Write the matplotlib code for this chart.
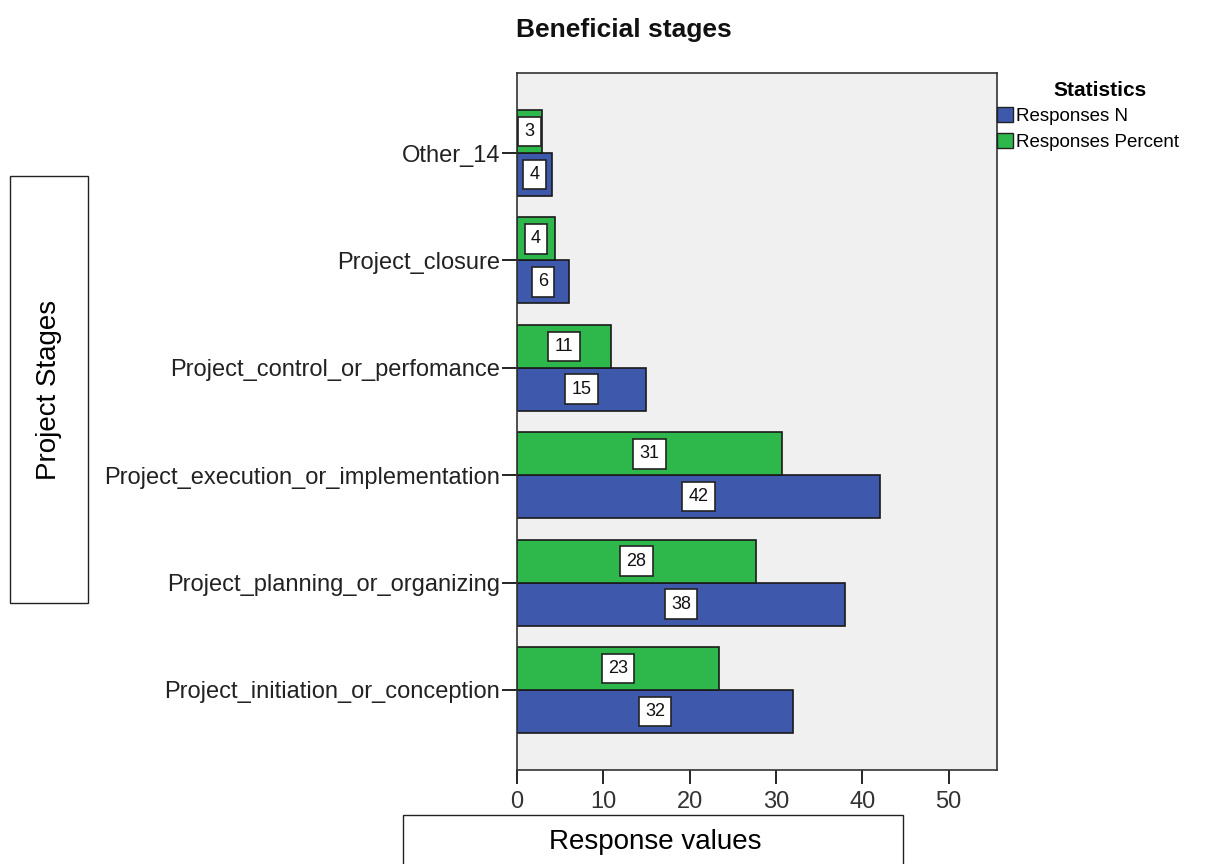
"""Grouped horizontal bar chart: beneficial project stages (responses N and percent)."""

import matplotlib
matplotlib.use("Agg")
import matplotlib.pyplot as plt
from matplotlib.patches import Patch, Rectangle

plt.rcParams["font.family"] = ["Liberation Sans", "DejaVu Sans"]

stages = [
    "Project_initiation_or_conception",
    "Project_planning_or_organizing",
    "Project_execution_or_implementation",
    "Project_control_or_perfomance",
    "Project_closure",
    "Other_14",
]
responses_n = [32, 38, 42, 15, 6, 4]
responses_pct = [23.4, 27.7, 30.7, 10.9, 4.4, 2.9]

BLUE = "#3e58ac"
GREEN = "#2eb84b"
BG = "#f0f0f0"

fig = plt.figure(figsize=(12.12, 8.64), dpi=100)
ax = fig.add_axes([517 / 1212, 94 / 864, 480 / 1212, 697 / 864])
ax.set_facecolor(BG)

h = 0.4
ypos = list(range(len(stages)))
bars_n = ax.barh([y - h / 2 for y in ypos], responses_n, height=h,
                 color=BLUE, edgecolor="#1a1a1a", linewidth=1.2)
bars_p = ax.barh([y + h / 2 for y in ypos], responses_pct, height=h,
                 color=GREEN, edgecolor="#1a1a1a", linewidth=1.2)

# value boxes centred on each bar
for bars, vals in ((bars_n, responses_n), (bars_p, responses_pct)):
    for b, v in zip(bars, vals):
        ax.text(v / 2, b.get_y() + b.get_height() / 2, f"{v:.0f}",
                ha="center", va="center", fontsize=13, color="#111111",
                bbox=dict(boxstyle="square,pad=0.35", fc="white", ec="#222222", lw=1.2))

ax.set_xlim(0, 55.6)
ax.set_ylim(-0.745, 5.745)
ax.set_xticks([0, 10, 20, 30, 40, 50])
ax.set_yticks(ypos)
ax.set_yticklabels(stages, fontsize=17, color="#222222")
ax.tick_params(axis="x", direction="out", length=10, width=1.2, labelsize=17,
               labelcolor="#333333", pad=5)
ax.tick_params(axis="y", direction="out", length=11, width=1.2, pad=1)
for s in ax.spines.values():
    s.set_color("#333333")
    s.set_linewidth(1.2)

fig.text(624 / 1212, 1 - 30 / 864, "Beneficial stages", ha="center", va="center",
         fontsize=19, fontweight="bold", color="#111111")

# legend
fig.text(1100 / 1212, 1 - 90 / 864, "Statistics", ha="center", va="center",
         fontsize=15, fontweight="bold")
leg = fig.legend(handles=[Patch(fc=BLUE, ec="#222222", label="Responses N"),
                          Patch(fc=GREEN, ec="#222222", label="Responses Percent")],
                 loc="upper left", bbox_to_anchor=(997 / 1212, 1 - 107 / 864),
                 frameon=False, fontsize=13.5, handlelength=0.85, handleheight=0.85,
                 handletextpad=0.15, labelspacing=0.45, borderaxespad=0, borderpad=0)

# boxed axis titles
fig.patches.append(Rectangle((10 / 1212, 1 - 603 / 864), 78 / 1212, 427 / 864,
                             transform=fig.transFigure, fill=False, ec="#222222", lw=1))
fig.text(49 / 1212, 1 - 390 / 864, "Project Stages", rotation=90, ha="center",
         va="center", fontsize=20)
fig.patches.append(Rectangle((403 / 1212, -0.01), 500 / 1212, (864 - 815) / 864 + 0.01,
                             transform=fig.transFigure, fill=False, ec="#222222", lw=1))
fig.text(655 / 1212, 1 - 842 / 864, "Response values", ha="center", va="center",
         fontsize=20)

fig.savefig("out.png", dpi=100)
